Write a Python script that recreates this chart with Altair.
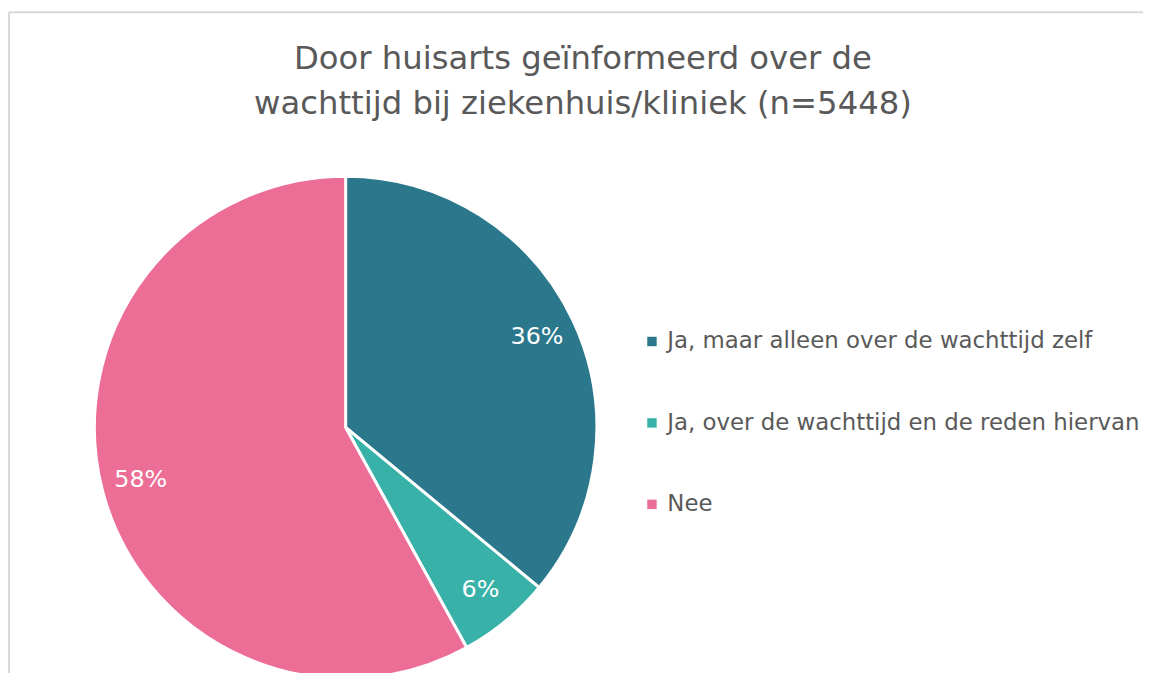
import altair as alt
import pandas as pd

categories = [
    "Ja, maar alleen over de wachttijd zelf",
    "Ja, over de wachttijd en de reden hiervan",
    "Nee",
]
values = [36, 6, 58]
labels = ["36%", "6%", "58%"]
colors = ["#2B778B", "#38B2A8", "#EC6E96"]
title_lines = ["Door huisarts geïnformeerd over de", "wachttijd bij ziekenhuis/kliniek (n=5448)"]

FONT = "DejaVu Sans"
GREY = "#595959"
W, H = 1142, 663
CX, CY = 339, 418

df = pd.DataFrame({"cat": categories, "value": values, "label": labels, "idx": list(range(len(values)))})

base = alt.Chart(df).encode(
    theta=alt.Theta("value:Q", stack=True),
    order=alt.Order("idx:Q"),
)

arc = base.mark_arc(radius=253, stroke="white", strokeWidth=3, x=CX, y=CY).encode(
    color=alt.Color(
        "cat:N",
        scale=alt.Scale(domain=categories, range=colors),
        sort=categories,
        legend=alt.Legend(
            title=None,
            orient="none",
            legendX=636,
            legendY=320,
            symbolType="square",
            symbolSize=90,
            symbolStrokeWidth=0,
            labelFont=FONT,
            labelFontSize=23,
            labelColor=GREY,
            labelLimit=0,
            labelOffset=4,
            rowPadding=58,
            padding=0,
        ),
    )
)

text = base.mark_text(radius=213, x=CX, y=CY, fontSize=24, font=FONT, fill="white").encode(
    text="label:N"
)

title = alt.Chart(pd.DataFrame({"t": [0]})).mark_text(
    text=title_lines,
    x=578,
    y=57,
    align="center",
    baseline="alphabetic",
    fontSize=32.5,
    lineHeight=45,
    font=FONT,
    color=GREY,
).encode(opacity=alt.value(1))

border = pd.DataFrame({"k": [0]})
left_line = alt.Chart(border).mark_rule(color="#d9d9d9", strokeWidth=2).encode(
    x=alt.value(0), y=alt.value(0), y2=alt.value(H + 20)
)
top_line = alt.Chart(border).mark_rule(color="#d9d9d9", strokeWidth=2).encode(
    x=alt.value(0), x2=alt.value(W + 40), y=alt.value(0)
)

chart = (
    alt.layer(left_line, top_line, arc, text, title)
    .properties(
        width=W,
        height=H,
        autosize=alt.AutoSizeParams(type="none"),
        padding={"left": 1, "top": 2, "right": 0, "bottom": 0},
        background="white",
    )
    .configure_view(stroke=None)
)

chart.save("out.html", embed_options={"renderer": "svg", "actions": False})
